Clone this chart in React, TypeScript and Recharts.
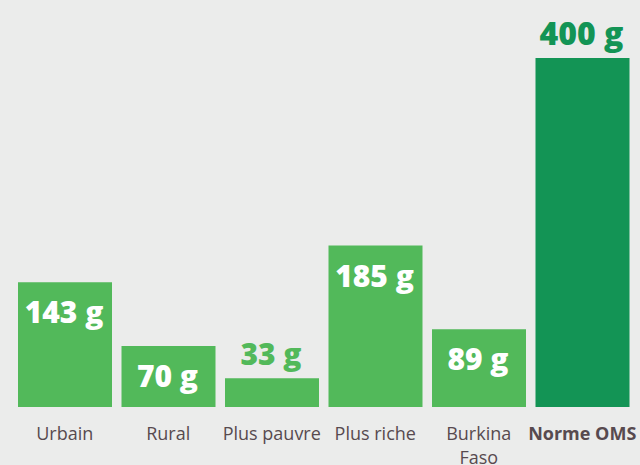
import { Bar, BarChart, Cell, LabelList, XAxis, YAxis } from "recharts";

const categories = ["Urbain", "Rural", "Plus pauvre", "Plus riche", "Burkina Faso", "Norme OMS"];
const grams = [143, 70, 33, 185, 89, 400];
// the last bar is the WHO reference
const isReference = [false, false, false, false, false, true];

const data = categories.map((name, i) => ({ name, grams: grams[i] }));

const LIGHT = "#52b95a";
const DARK = "#139455";
const TEXT = "#574a4f";
const FONT = "'Open Sans', sans-serif";

function CategoryTick(props: any) {
  const { x, y, payload, index } = props;
  const bold = isReference[index];
  const words = String(payload.value);
  // "Burkina Faso" wraps onto two lines
  const lines = words === "Burkina Faso" ? ["Burkina", "Faso"] : [words];
  return (
    <text
      x={x}
      y={y}
      textAnchor="middle"
      fill={TEXT}
      fontFamily={FONT}
      fontSize={18}
      fontWeight={bold ? 700 : 400}
    >
      {lines.map((l, i) => (
        <tspan key={i} x={x} dy={i === 0 ? 25 : 24}>
          {l}
        </tspan>
      ))}
    </text>
  );
}

function ValueLabel(props: any) {
  const { x, y, width, height, value, index } = props;
  const highlight = isReference[index];
  const inside = !highlight && height > 60;
  const cx = x + width / 2;
  return (
    <text
      x={cx - 1}
      y={inside ? y + 41 : y - 13}
      textAnchor="middle"
      fill={inside ? "#ffffff" : highlight ? DARK : LIGHT}
      fontFamily={FONT}
      fontSize={highlight ? 32 : 30}
      fontWeight={800}
    >
      {`${value} g`}
    </text>
  );
}

export default function App() {
  return (
    <div style={{ width: 640, height: 465, background: "#ebeceb", position: "absolute", left: 0, top: 0 }}>
      <BarChart
        width={640}
        height={465}
        data={data}
        margin={{ top: 58, right: 6, left: 13, bottom: 0 }}
      >
        <XAxis
          dataKey="name"
          axisLine={false}
          tickLine={false}
          interval={0}
          height={58}
          tick={<CategoryTick />}
        />
        <YAxis hide domain={[0, 400]} />
        <Bar dataKey="grams" barSize={94} isAnimationActive={false}>
          {data.map((_, i) => (
            <Cell key={i} fill={isReference[i] ? DARK : LIGHT} />
          ))}
          <LabelList dataKey="grams" content={<ValueLabel />} />
        </Bar>
      </BarChart>
    </div>
  );
}
